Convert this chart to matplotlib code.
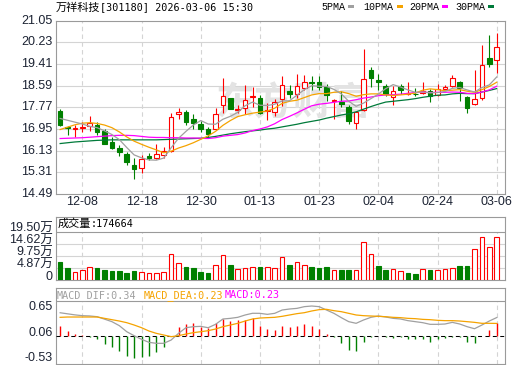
import matplotlib
matplotlib.use("Agg")
import matplotlib.pyplot as plt
from matplotlib.patches import Rectangle
from matplotlib import transforms as mtrans

# ---------------- data ----------------
stock_name = "万祥科技"
stock_rest = "[301180] 2026-03-06 15:30"
tick_pos = [3, 11, 19, 27, 35, 43, 51, 59]
tick_labels = ["12-08", "12-18", "12-30", "01-13", "01-23", "02-04", "02-24", "03-06"]

opens = [17.65, 17.02, 16.96, 17.00, 17.06, 17.12, 16.88, 16.45, 16.25, 15.99,
         15.58, 15.46, 15.91, 15.86, 15.98, 16.13, 17.51, 17.60, 17.32, 17.15,
         16.94, 16.95, 17.86, 18.12, 17.66, 17.73, 18.18, 18.14, 17.65, 17.58,
         18.08, 18.38, 18.29, 18.52, 18.73, 18.74, 18.55, 18.01, 17.98, 17.78,
         17.19, 17.67, 19.20, 18.79, 18.58, 18.17, 18.57, 18.29, 18.29, 18.33,
         18.37, 18.24, 18.47, 18.59, 18.74, 18.16, 17.89, 18.11, 19.65, 19.56]
closes = [17.09, 16.99, 16.98, 17.03, 17.17, 16.84, 16.40, 16.25, 16.07, 15.70,
          15.43, 15.83, 15.87, 16.00, 16.11, 17.40, 17.60, 17.20, 17.19, 16.94,
          16.78, 17.52, 18.19, 17.72, 17.70, 18.03, 18.21, 17.57, 17.67, 17.96,
          18.63, 18.28, 18.59, 18.74, 18.70, 18.54, 18.25, 18.04, 17.88, 17.27,
          17.61, 18.86, 18.88, 18.74, 18.29, 18.37, 18.44, 18.33, 18.26, 18.37,
          18.20, 18.47, 18.54, 18.89, 18.52, 17.73, 18.07, 19.37, 19.40, 20.04]
highs = [17.71, 17.07, 17.11, 17.21, 17.45, 17.21, 16.95, 16.65, 16.34, 16.08,
         15.84, 15.97, 16.06, 16.40, 16.28, 17.56, 17.73, 17.67, 17.52, 17.25,
         17.03, 17.73, 18.89, 18.14, 17.87, 18.62, 18.55, 18.24, 17.92, 18.08,
         18.95, 18.60, 19.05, 19.00, 18.94, 18.94, 18.64, 18.08, 18.39, 17.86,
         17.65, 19.98, 19.29, 19.04, 18.64, 18.57, 18.66, 18.74, 18.52, 18.74,
         18.47, 18.66, 18.61, 18.98, 18.78, 18.20, 19.20, 20.13, 20.50, 20.58]
lows = [17.05, 16.71, 16.63, 16.84, 16.88, 16.71, 16.38, 16.18, 15.93, 15.60,
        15.07, 15.29, 15.78, 15.81, 15.84, 16.09, 17.32, 17.09, 16.96, 16.83,
        16.65, 16.93, 17.55, 17.70, 17.57, 17.50, 17.77, 17.52, 17.31, 17.46,
        17.81, 18.14, 18.14, 18.42, 18.44, 18.42, 18.00, 17.34, 17.77, 17.15,
        16.96, 17.65, 18.54, 18.42, 18.20, 17.87, 18.27, 18.23, 18.20, 18.27,
        17.99, 18.20, 18.42, 18.54, 18.00, 17.57, 17.87, 18.04, 19.29, 19.06]

ma5 = [17.35, 17.28, 17.21, 17.14, 17.05, 17.00, 16.88, 16.74, 16.55, 16.25,
       15.97, 15.86, 15.78, 15.77, 15.85, 16.24, 16.60, 16.86, 17.10, 17.27,
       17.14, 17.13, 17.32, 17.43, 17.58, 17.83, 17.97, 17.85, 17.84, 17.89,
       18.01, 18.02, 18.23, 18.44, 18.59, 18.57, 18.56, 18.45, 18.28, 18.00,
       17.81, 17.93, 18.10, 18.27, 18.48, 18.63, 18.54, 18.43, 18.34, 18.35,
       18.32, 18.33, 18.37, 18.49, 18.52, 18.43, 18.35, 18.52, 18.62, 18.92]
ma10 = [16.93, 17.02, 17.11, 17.17, 17.19, 17.16, 17.10, 17.00, 16.84, 16.65,
        16.49, 16.37, 16.26, 16.16, 16.05, 16.11, 16.23, 16.32, 16.43, 16.56,
        16.69, 16.86, 17.09, 17.27, 17.42, 17.49, 17.55, 17.59, 17.63, 17.74,
        17.92, 18.00, 18.04, 18.14, 18.24, 18.29, 18.29, 18.34, 18.36, 18.29,
        18.19, 18.25, 18.28, 18.28, 18.24, 18.22, 18.24, 18.27, 18.31, 18.42,
        18.47, 18.44, 18.40, 18.42, 18.44, 18.38, 18.34, 18.44, 18.56, 18.72]
ma20 = [16.59, 16.60, 16.61, 16.62, 16.64, 16.66, 16.68, 16.70, 16.71, 16.71,
        16.70, 16.67, 16.64, 16.63, 16.63, 16.62, 16.62, 16.61, 16.61, 16.60,
        16.59, 16.62, 16.68, 16.71, 16.74, 16.80, 16.89, 16.95, 17.03, 17.15,
        17.31, 17.43, 17.56, 17.70, 17.83, 17.89, 17.92, 17.96, 18.00, 18.01,
        18.06, 18.12, 18.16, 18.21, 18.24, 18.25, 18.27, 18.30, 18.33, 18.35,
        18.33, 18.34, 18.34, 18.35, 18.34, 18.30, 18.29, 18.35, 18.43, 18.57]
ma30 = [16.40, 16.43, 16.46, 16.48, 16.50, 16.52, 16.53, 16.54, 16.54, 16.54,
        16.54, 16.54, 16.54, 16.54, 16.55, 16.56, 16.57, 16.58, 16.59, 16.60,
        16.63, 16.67, 16.72, 16.77, 16.81, 16.85, 16.88, 16.91, 16.95, 16.98,
        17.03, 17.08, 17.13, 17.19, 17.24, 17.29, 17.36, 17.42, 17.48, 17.53,
        17.60, 17.70, 17.80, 17.89, 17.97, 18.00, 18.03, 18.06, 18.10, 18.15,
        18.19, 18.23, 18.24, 18.28, 18.30, 18.29, 18.29, 18.35, 18.41, 18.48]

# volume in 万 (10k) units
vol = [7.0, 4.6, 3.25, 4.07, 5.28, 4.6, 3.8, 3.39, 3.66, 2.85,
       3.66, 3.12, 2.71, 2.71, 3.12, 10.4, 6.8, 5.28, 4.6, 3.25,
       2.85, 5.96, 10.0, 6.1, 4.47, 4.74, 5.15, 5.0, 5.28, 4.88,
       9.35, 6.1, 7.2, 6.1, 5.0, 4.6, 5.28, 4.07, 4.07, 4.07,
       4.07, 15.4, 10.4, 5.69, 4.07, 4.47, 3.66, 2.85, 2.44, 4.34,
       4.07, 3.93, 4.34, 4.88, 5.69, 5.69, 12.6, 17.5, 13.3, 17.4664]
vol_up = [0, 0, 1, 1, 1, 0, 0, 0, 0, 0,
          0, 1, 1, 1, 1, 1, 1, 0, 0, 0,
          0, 1, 1, 0, 1, 1, 1, 0, 1, 1,
          1, 0, 1, 1, 0, 0, 0, 1, 0, 0,
          1, 1, 1, 0, 0, 1, 1, 0, 0, 1,
          0, 1, 1, 1, 0, 0, 1, 1, 1, 1]

dif = [0.43, 0.41, 0.39, 0.375, 0.37, 0.356, 0.31, 0.263, 0.188, 0.075,
       0.0, -0.068, -0.124, -0.143, -0.143, -0.081, 0.044, 0.15, 0.169, 0.175,
       0.15, 0.213, 0.313, 0.325, 0.344, 0.388, 0.42, 0.419, 0.40, 0.419,
       0.481, 0.50, 0.512, 0.544, 0.556, 0.544, 0.481, 0.419, 0.338, 0.263,
       0.232, 0.294, 0.344, 0.369, 0.35, 0.325, 0.313, 0.282, 0.263, 0.244,
       0.213, 0.213, 0.219, 0.25, 0.219, 0.169, 0.131, 0.20, 0.275, 0.34]
dea = [0.344, 0.35, 0.35, 0.35, 0.35, 0.35, 0.325, 0.30, 0.275, 0.244,
       0.20, 0.15, 0.088, 0.044, 0.013, -0.018, 0.0, 0.031, 0.057, 0.075,
       0.094, 0.125, 0.169, 0.20, 0.232, 0.275, 0.313, 0.331, 0.338, 0.344,
       0.363, 0.388, 0.413, 0.431, 0.463, 0.488, 0.494, 0.469, 0.45, 0.419,
       0.388, 0.375, 0.369, 0.363, 0.356, 0.344, 0.338, 0.325, 0.319, 0.306,
       0.30, 0.288, 0.282, 0.282, 0.275, 0.263, 0.25, 0.232, 0.232, 0.23]
macd = [0.18, 0.09, 0.03, 0.01, -0.02, -0.06, -0.16, -0.22, -0.29, -0.38,
        -0.42, -0.39, -0.38, -0.30, -0.22, 0.0, 0.16, 0.22, 0.24, 0.17,
        0.14, 0.24, 0.31, 0.28, 0.29, 0.30, 0.33, 0.18, 0.13, 0.11,
        0.18, 0.17, 0.19, 0.21, 0.19, 0.13, 0.03, -0.03, -0.13, -0.27,
        -0.28, -0.12, -0.02, 0.0, -0.02, -0.04, -0.03, -0.06, -0.07, -0.07,
        -0.11, -0.07, -0.05, -0.02, -0.03, -0.12, -0.14, 0.0, 0.10, 0.23]

price_ticks = [14.49, 15.31, 16.13, 16.95, 17.77, 18.59, 19.41, 20.23, 21.05]
vol_ticks = [0, 4.875, 9.75, 14.625, 19.5]
vol_tick_labels = ["0", "4.87万", "9.75万", "14.62万", "19.50万"]
macd_ticks = [-0.53, 0.06, 0.65]

# ---------------- style ----------------
RED = "#ff0000"
GREEN = "#008000"
C5, C10, C20, C30 = "#a0a0a0", "#f5a300", "#ff00ff", "#007a3a"
BORDER = "#9a9a9a"
GRID = "#d4d4d4"
LBL = "#1c2333"
W, H = 520, 365

fig = plt.figure(figsize=(W / 100, H / 100), dpi=100)
fig.patch.set_facecolor("white")


def rect(x0, y0, x1, y1):
    return [x0 / W, 1 - y1 / H, (x1 - x0) / W, (y1 - y0) / H]


X0, X1 = 55.7, 505.0
P_TOP, P_BOT = 20.7, 194.0
V_TOP, V_HDR, V_BOT = 216.7, 231.7, 279.5
M_TOP, M_HDR, M_BOT = 288.3, 301.0, 364.0

ax_p = fig.add_axes(rect(X0, P_TOP, X1, P_BOT))
ax_v = fig.add_axes(rect(X0, V_TOP, X1, V_BOT))
ax_m = fig.add_axes(rect(X0, M_TOP, X1, M_BOT))

n = len(closes)
xs = list(range(n))
xlim = (-0.6, n + 0.12)

for ax in (ax_p, ax_v, ax_m):
    ax.set_xlim(*xlim)
    ax.set_xticks([])
    ax.set_yticks([])
    for s in ax.spines.values():
        s.set_color(BORDER)
        s.set_linewidth(0.8)
    ax.set_facecolor("white")

# ---- price panel ----
ax_p.set_ylim(price_ticks[0], price_ticks[-1])
for v in price_ticks[1:-1]:
    ax_p.axhline(v, color=GRID, lw=0.8, zorder=0)
for t in tick_pos:
    ax_p.axvline(t, color=GRID, lw=0.8, dashes=(4, 3), zorder=0)

ax_p.text(0.53, 0.52, "东方财富", transform=ax_p.transAxes, ha="center", va="center",
          fontsize=28, color="#e3e3e3", fontweight="bold", family="Noto Sans CJK SC", zorder=1)

up = [c >= o for o, c in zip(opens, closes)]
ccol = [RED if u else GREEN for u in up]
ax_p.vlines(xs, lows, highs, colors=ccol, lw=0.8, zorder=3)
bottoms = [min(o, c) for o, c in zip(opens, closes)]
heights = [max(abs(c - o), 0.004) for o, c in zip(opens, closes)]
ax_p.bar(xs, heights, bottom=bottoms, width=0.62,
         color=["white" if u else GREEN for u in up], edgecolor=ccol, linewidth=0.8, zorder=4)

ax_p.plot(xs, ma30, color=C30, lw=0.9, zorder=5)
ax_p.plot(xs, ma20, color=C20, lw=0.9, zorder=5)
ax_p.plot(xs, ma10, color=C10, lw=0.9, zorder=5)
ax_p.plot(xs, ma5, color=C5, lw=0.9, zorder=5)

ytr = mtrans.blended_transform_factory(fig.transFigure, ax_p.transData)
for v in price_ticks:
    ax_p.text(52.5 / W, v, f"{v:.2f}", transform=ytr, ha="right", va="center",
              fontsize=9, color=LBL, family="Liberation Sans", clip_on=False)

xtr = mtrans.blended_transform_factory(ax_p.transData, fig.transFigure)
for t, lab in zip(tick_pos, tick_labels):
    ax_p.text(t, 1 - 202 / H, lab, transform=xtr, ha="center", va="center",
              fontsize=9, color=LBL, family="Liberation Sans", clip_on=False)

# ---- volume panel ----
v_top = vol_ticks[-1] * (V_BOT - V_TOP) / (V_BOT - V_HDR)
ax_v.set_ylim(0, v_top)
for v in vol_ticks[1:-1]:
    ax_v.axhline(v, color=GRID, lw=0.8, zorder=0)
ax_v.axhline(vol_ticks[-1], color=BORDER, lw=0.8, zorder=1)
ax_v.vlines(tick_pos, 0, vol_ticks[-1], colors=GRID, lw=0.8, linestyles=(0, (4, 3)), zorder=0)
vcol = [RED if u else GREEN for u in vol_up]
ax_v.bar(xs, vol, width=0.62, color=["white" if u else GREEN for u in vol_up],
         edgecolor=vcol, linewidth=0.8, zorder=3)
vtr = mtrans.offset_copy(mtrans.blended_transform_factory(fig.transFigure, ax_v.transData),
                         fig=fig, x=0, y=2.7 * 72 / 100, units="points")
for v, lab in zip(vol_ticks, vol_tick_labels):
    ax_v.text(53 / W, v, lab, transform=vtr, ha="right", va="center", fontsize=9,
              color=LBL, family=["Liberation Sans", "Noto Sans CJK SC"], clip_on=False)

# ---- MACD panel ----
m_lo, m_hi = macd_ticks[0], macd_ticks[-1]
m_top = m_hi + (m_hi - m_lo) * (M_HDR - M_TOP) / (M_BOT - M_HDR)
ax_m.set_ylim(m_lo, m_top)
ax_m.axhline(m_hi, color=BORDER, lw=0.8, zorder=1)
ax_m.vlines(tick_pos, m_lo, m_hi, colors=GRID, lw=0.8, linestyles=(0, (4, 3)), zorder=0)
mcol = [RED if m > 0 else GREEN for m in macd]
ax_m.vlines(xs, 0, macd, colors=mcol, lw=1.0, zorder=3)
ax_m.axhline(0, color="black", lw=0.75, dashes=(3.8, 3.3), zorder=4)
ax_m.plot(xs, dif, color=C5, lw=0.9, zorder=5)
ax_m.plot(xs, dea, color=C10, lw=0.9, zorder=5)
mtr = mtrans.blended_transform_factory(fig.transFigure, ax_m.transData)
for v, va in zip(macd_ticks, ["bottom", "center", "top"]):
    ax_m.text(52.5 / W, v, f"{v:.2f}", transform=mtr, ha="right", va=va, fontsize=9,
              color=LBL, family="Liberation Sans", clip_on=False)


# ---- header texts ----
def ftext(x, y, s, **kw):
    fig.text(x / W, 1 - y / H, s, va="center", ha="left", **kw)


ftext(56, 7.5, stock_name, family="Noto Sans CJK SC", fontsize=8, color="black")
ftext(100, 7.5, stock_rest, family="DejaVu Sans Mono", fontsize=7.3, color="black")

legend_items = [("5PMA", C5, 321.7, 347.7), ("10PMA", C10, 363.3, 396.7),
                ("20PMA", C20, 409.0, 442.3), ("30PMA", C30, 455.0, 488.3)]
for name, col, tx, sx in legend_items:
    ftext(tx, 7.5, name, family="Liberation Mono", fontsize=7.2, color="black")
    fig.patches.append(Rectangle((sx / W, 1 - 8.2 / H), 6 / W, 3 / H, transform=fig.transFigure,
                                 facecolor=col, edgecolor="none"))

ftext(57.3, 224.0, "成交量", family="Noto Sans CJK SC", fontsize=8, color="black")
ftext(90.3, 224.0, f":{vol[-1] * 10000:.0f}", family="DejaVu Sans Mono", fontsize=7.3, color="black")

ftext(56.7, 295.5, f"MACD_DIF:{dif[-1]:.2f}", family="DejaVu Sans Mono", fontsize=7.3, color=C5)
ftext(143.3, 295.5, f"MACD_DEA:{dea[-1]:.2f}", family="DejaVu Sans Mono", fontsize=7.3, color=C10)
ftext(225.0, 295.5, f"MACD:{macd[-1]:.2f}", family="DejaVu Sans Mono", fontsize=7.3, color=C20)

fig.savefig("out.png", dpi=100, facecolor="white")
